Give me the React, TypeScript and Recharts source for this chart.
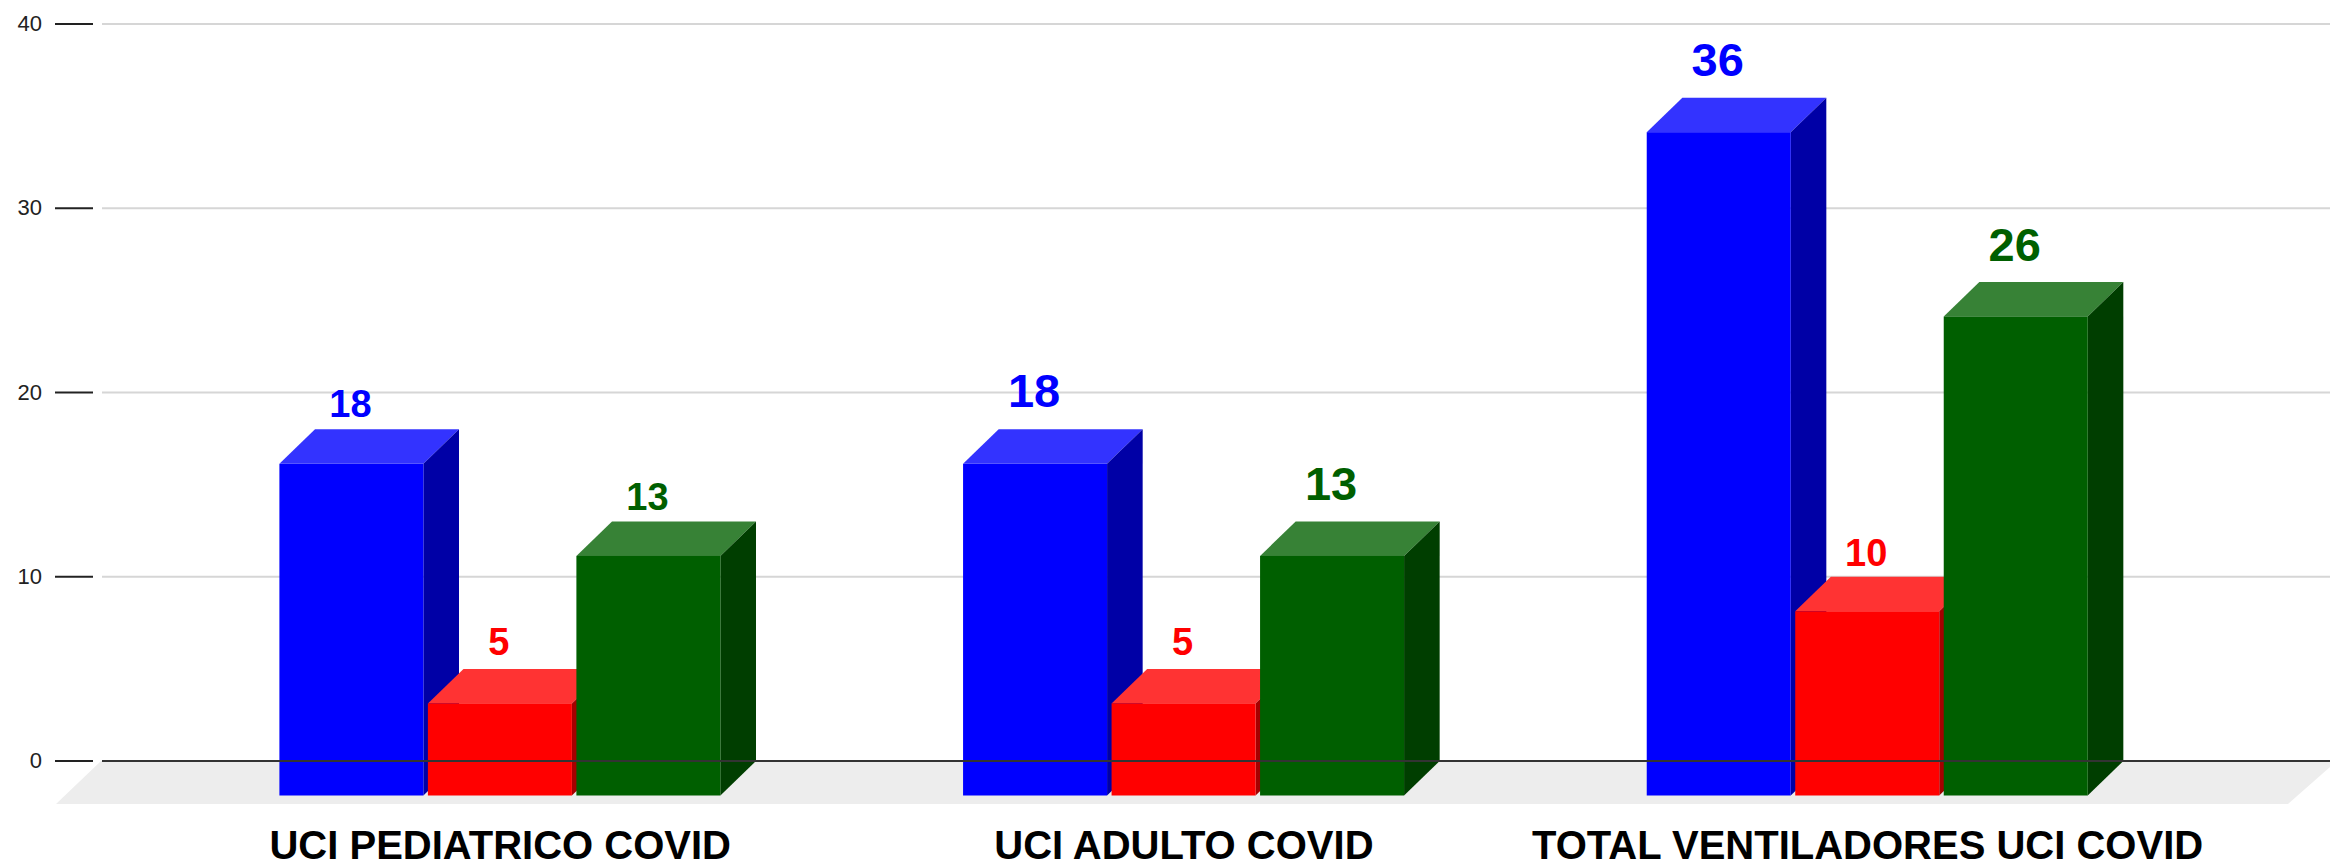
import { BarChart, Bar, XAxis, YAxis, CartesianGrid, ReferenceLine, LabelList } from "recharts";

const categories = ["UCI PEDIATRICO COVID", "UCI ADULTO COVID", "TOTAL VENTILADORES UCI COVID"];
const blueValues = [18, 18, 36];
const redValues = [5, 5, 10];
const greenValues = [13, 13, 26];
const yTicks = [0, 10, 20, 30, 40];

const data = categories.map((name, i) => ({
  name,
  blue: blueValues[i],
  red: redValues[i],
  green: greenValues[i],
}));

// 3d depth of the bars: the scale draws the back plane, the front face is shifted by this
const DEPTH_X = 35.6;
const DEPTH_Y = 34.5;
const FONT = "'Liberation Sans', Arial, sans-serif";

const Box = ({ x, y, width, height, front, top, side }: any) => {
  const left = x - DEPTH_X;
  const right = left + width;
  const fy = y + DEPTH_Y;
  const bottom = fy + height;
  return (
    <g>
      <polygon points={`${left},${fy} ${x},${y} ${x + width},${y} ${right},${fy}`} fill={top} />
      <polygon points={`${right},${fy} ${x + width},${y} ${x + width},${y + height} ${right},${bottom}`} fill={side} />
      <rect x={left} y={fy} width={width} height={height} fill={front} />
    </g>
  );
};

const Floor = () => (
  <polygon points="101,761 2330,761 2330,767 2288,804 56,804" fill="#ededed" />
);

const AxisTickY = ({ x, y, payload }: any) => (
  <g>
    <line x1={x - 41} x2={x - 3} y1={y} y2={y} stroke="#222" strokeWidth={2} />
    <text x={x - 54} y={y + 7} textAnchor="end" fontSize={22} fontFamily={FONT} fill="#222">
      {payload.value}
    </text>
  </g>
);

const AxisTickX = ({ x, payload }: any) => (
  <text x={x - DEPTH_X} y={859} textAnchor="middle" fontSize={40} fontWeight="bold" fontFamily={FONT} fill="#000">
    {payload.value}
  </text>
);

const barLabel = (color: string, sizes: number[], gaps: number[]) => (props: any) => {
  const { x, y, width, value, index } = props;
  return (
    <text
      x={x - DEPTH_X + width / 2 - 1}
      y={y - gaps[index]}
      textAnchor="middle"
      fontSize={sizes[index]}
      fontWeight="bold"
      fontFamily={FONT}
      fill={color}
    >
      {value}
    </text>
  );
};

export default function App() {
  return (
    <div style={{ position: "absolute", left: 0, top: 0, width: 2330, height: 863, background: "#fff" }}>
      <BarChart
        width={2330}
        height={863}
        data={data}
        margin={{ top: 24, right: 0, bottom: 0, left: 0 }}
        barSize={144}
        barGap={4.5}
      >
        <Floor />
        <CartesianGrid horizontal vertical={false} stroke="#d6d6d6" strokeWidth={2} />
        <XAxis
          dataKey="name"
          height={102}
          axisLine={false}
          tickLine={false}
          interval={0}
          padding={{ left: 92, right: 85 }}
          tick={<AxisTickX />}
        />
        <YAxis
          width={102}
          domain={[0, 40]}
          ticks={yTicks}
          axisLine={false}
          tickLine={false}
          tickMargin={0}
          tick={<AxisTickY />}
        />
        <ReferenceLine y={0} stroke="#333" strokeWidth={2} />
        <Bar
          dataKey="blue"
          isAnimationActive={false}
          shape={(p: any) => <Box {...p} front="#0000ff" top="#3333ff" side="#0000a6" />}
        >
          <LabelList dataKey="blue" content={barLabel("#0000ff", [38, 47, 47], [12, 22, 22])} />
        </Bar>
        <Bar
          dataKey="red"
          isAnimationActive={false}
          shape={(p: any) => <Box {...p} front="#ff0000" top="#ff3333" side="#a60000" />}
        >
          <LabelList dataKey="red" content={barLabel("#ff0000", [38, 38, 38], [14, 14, 11])} />
        </Bar>
        <Bar
          dataKey="green"
          isAnimationActive={false}
          shape={(p: any) => <Box {...p} front="#005f00" top="#378236" side="#003e00" />}
        >
          <LabelList dataKey="green" content={barLabel("#005f00", [38, 47, 47], [11, 21, 21])} />
        </Bar>
      </BarChart>
    </div>
  );
}
